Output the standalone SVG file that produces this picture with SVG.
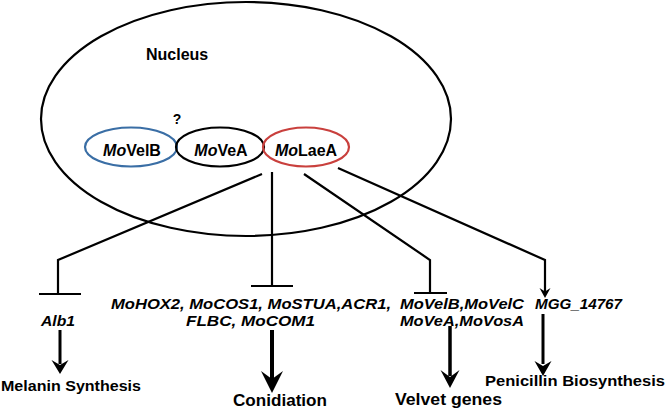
<svg xmlns="http://www.w3.org/2000/svg" width="666" height="410" viewBox="0 0 666 410">
<style>
.t{font-family:"Liberation Sans",Arial,sans-serif;font-weight:bold;fill:#000}
.i{font-style:italic}
.ln{fill:none;stroke:#000;stroke-width:2.2}
.ah{fill:#000}
</style>
<rect width="666" height="410" fill="#fff"/>
<g id="nucleus">
<ellipse cx="246" cy="119" rx="205" ry="117" fill="none" stroke="#000" stroke-width="2.2"/>
<text class="t" x="146" y="60" font-size="16">Nucleus</text>
</g>
<g id="movelb">
<ellipse cx="131" cy="147" rx="46" ry="19.5" fill="none" stroke="#3a6ea5" stroke-width="2.2"/>
<text class="t" x="132" y="156" font-size="16" text-anchor="middle"><tspan class="i">Mo</tspan>VelB</text>
</g>
<g id="q"><text class="t" x="177" y="124" font-size="14" text-anchor="middle">?</text></g>
<g id="moveA">
<ellipse cx="220" cy="147" rx="44" ry="19.5" fill="none" stroke="#000" stroke-width="2.2"/>
<text class="t" x="221" y="156" font-size="16" text-anchor="middle"><tspan class="i">Mo</tspan>VeA</text>
</g>
<g id="molaeA">
<ellipse cx="306" cy="147" rx="43" ry="19.5" fill="none" stroke="#c9403d" stroke-width="2.2"/>
<text class="t" x="306" y="156" font-size="16" text-anchor="middle"><tspan class="i">Mo</tspan>LaeA</text>
</g>
<g id="connectors">
<polyline class="ln" points="262,174 58,260 58,294"/>
<line class="ln" x1="39" y1="294" x2="81" y2="294"/>
<line class="ln" x1="272" y1="172" x2="272" y2="286"/>
<line class="ln" x1="251" y1="286" x2="293" y2="286"/>
<polyline class="ln" points="304,174 430,260 430,293"/>
<line class="ln" x1="414" y1="293" x2="447" y2="293"/>
<polyline class="ln" points="338,168 545,260 545,292"/>
<path class="ah" d="M545,298 L539.5,288 L545,291.5 L550.5,288 Z"/>
<line stroke="#000" stroke-width="3" x1="60" y1="330" x2="60" y2="364"/>
<path class="ah" d="M60,374 L51.5,360 L60,365 L68.5,360 Z"/>
<line stroke="#000" stroke-width="4" x1="272" y1="330" x2="272" y2="380"/>
<path class="ah" d="M272,393 L261,371 L272,379 L283,371 Z"/>
<line stroke="#000" stroke-width="3.5" x1="450" y1="326" x2="450" y2="376"/>
<path class="ah" d="M450,388 L440.5,370 L450,377 L459.5,370 Z"/>
<line stroke="#000" stroke-width="3" x1="543" y1="314" x2="543" y2="364"/>
<path class="ah" d="M543,376 L534.5,361 L543,366 L551.5,361 Z"/>
</g>
<g id="alb1"><text class="t i" x="41" y="326" font-size="15" textLength="34" lengthAdjust="spacingAndGlyphs">Alb1</text></g>
<g id="melanin"><text class="t" x="1" y="391" font-size="15.5" textLength="140" lengthAdjust="spacingAndGlyphs">Melanin Synthesis</text></g>
<g id="conid-genes">
<text class="t i" x="111" y="309" font-size="15" textLength="280" lengthAdjust="spacingAndGlyphs">MoHOX2, MoCOS1, MoSTUA,ACR1,</text>
<text class="t i" x="186" y="326" font-size="15" textLength="129" lengthAdjust="spacingAndGlyphs">FLBC, MoCOM1</text>
</g>
<g id="conidiation"><text class="t" x="233" y="406" font-size="16" textLength="94" lengthAdjust="spacingAndGlyphs">Conidiation</text></g>
<g id="velvet-genes-list">
<text class="t i" x="400" y="309" font-size="15" textLength="124" lengthAdjust="spacingAndGlyphs">MoVelB,MoVelC</text>
<text class="t i" x="400" y="326" font-size="15" textLength="124" lengthAdjust="spacingAndGlyphs">MoVeA,MoVosA</text>
</g>
<g id="velvet"><text class="t" x="395" y="405" font-size="16" textLength="107" lengthAdjust="spacingAndGlyphs">Velvet genes</text></g>
<g id="mgg"><text class="t i" x="535" y="309" font-size="15" textLength="87" lengthAdjust="spacingAndGlyphs">MGG_14767</text></g>
<g id="penicillin"><text class="t" x="485" y="386" font-size="15.5" textLength="180" lengthAdjust="spacingAndGlyphs">Penicillin Biosynthesis</text></g>
</svg>
